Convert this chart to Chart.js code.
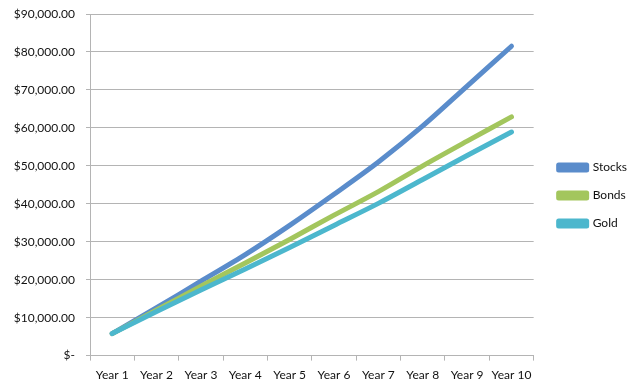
<!DOCTYPE html>
<html>
<head>
<meta charset="utf-8">
<script src="https://cdn.jsdelivr.net/npm/chart.js@4/dist/chart.umd.min.js"></script>
<style>
html,body{margin:0;padding:0;background:#fff;}
#wrap{width:640px;height:389px;}
</style>
</head>
<body>
<div id="wrap"><canvas id="c" width="640" height="389"></canvas></div>
<script>
const categories = ["Year 1","Year 2","Year 3","Year 4","Year 5","Year 6","Year 7","Year 8","Year 9","Year 10"];
const stocks = [5800, 12600, 19600, 26600, 34300, 42500, 51000, 60500, 71000, 81500];
const bonds  = [5800, 12000, 18300, 24400, 30600, 37000, 43200, 50000, 56500, 62900];
const gold   = [5800, 11600, 17300, 22800, 28500, 34300, 40100, 46400, 52700, 58900];
const yTicks = [0, 10000, 20000, 30000, 40000, 50000, 60000, 70000, 80000, 90000];

const FONT = "Lato, 'Open Sans', sans-serif";
const grid = '#b4b4b4';

function fmt(v){
  if (v === 0) return '$-';
  return '$' + v.toLocaleString('en-US', {minimumFractionDigits:2, maximumFractionDigits:2});
}

const legendShift = {
  id:'legendShift',
  afterLayout(chart){
    const lg = chart.legend;
    if (!lg) return;
    lg.left += 9; lg.right += 9;
    lg.top -= 6; lg.bottom -= 6;
  }
};

new Chart(document.getElementById('c'), {
  type: 'line',
  data: {
    labels: categories,
    datasets: [
      {label:'Stocks', data:stocks, borderColor:'#5a8ccb', backgroundColor:'#5a8ccb', order:3},
      {label:'Bonds', data:bonds, borderColor:'#a3c65d', backgroundColor:'#a3c65d', order:2},
      {label:'Gold', data:gold, borderColor:'#4cb7cd', backgroundColor:'#4cb7cd', order:1}
    ]
  },
  plugins:[legendShift],
  options: {
    responsive:false,
    animation:false,
    events:[],
    layout:{padding:{left:0,right:12,top:14,bottom:0}},
    elements:{
      line:{borderWidth:5, tension:0.3, borderCapStyle:'round', borderJoinStyle:'round', fill:false},
      point:{radius:0, hoverRadius:0}
    },
    plugins:{
      tooltip:{enabled:false},
      legend:{
        position:'right',
        align:'center',
        labels:{
          boxWidth:28, boxHeight:5, padding:16,
          color:'#111', font:{family:FONT, size:12},
          sort:(a,b)=>a.datasetIndex-b.datasetIndex
        }
      }
    },
    scales:{
      x:{
        offset:true,
        grid:{offset:true, drawOnChartArea:false, drawTicks:true, tickLength:5, color:grid},
        border:{color:grid, width:1},
        ticks:{color:'#111', font:{family:FONT, size:12}, padding:7, maxRotation:0, autoSkip:false}
      },
      y:{
        min:0, max:90000,
        afterFit:(s)=>{ s.width = 90; s.paddingTop = 0; s.paddingBottom = 0; },
        afterBuildTicks:(s)=>{ s.ticks = yTicks.map(v=>({value:v})); },
        grid:{color:grid, tickLength:4, lineWidth:1},
        border:{color:grid, width:1},
        ticks:{color:'#111', font:{family:FONT, size:12}, padding:11, callback:(v)=>fmt(v)}
      }
    }
  }
});
</script>
</body>
</html>
